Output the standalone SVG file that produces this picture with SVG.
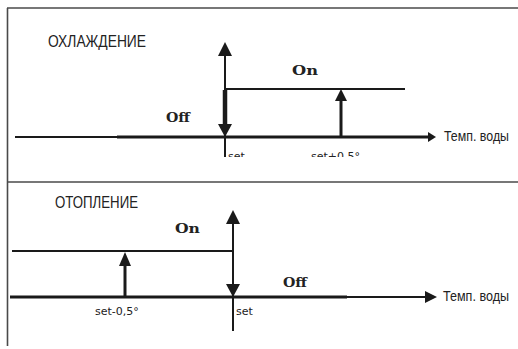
<svg xmlns="http://www.w3.org/2000/svg" width="518" height="349" viewBox="0 0 518 349">
<style>
.frame{stroke:#4a4a4a;stroke-width:1.6;fill:none}
.ln{stroke:#1a1a1a;fill:none;stroke-width:2}
.thk{stroke:#1a1a1a;fill:none;stroke-width:3}
.ah{fill:#1a1a1a}
.title{font-family:"Liberation Sans",Arial,sans-serif;font-size:16px;fill:#222}
.axl{font-family:"Liberation Sans",Arial,sans-serif;font-size:14px;fill:#222}
.state{font-family:"DejaVu Serif","Liberation Serif",serif;font-weight:bold;font-size:13px;fill:#222}
.small{font-family:"DejaVu Sans","Liberation Sans",sans-serif;font-size:11px;fill:#222}
</style>
<defs>
<clipPath id="cut"><rect x="0" y="0" width="518" height="157"/></clipPath>
</defs>
<g id="frame">
<line class="frame" x1="7" y1="8" x2="518" y2="8"/>
<line class="frame" x1="7.5" y1="8" x2="7.5" y2="346"/>
<line class="frame" x1="7" y1="182" x2="518" y2="182"/>
</g>
<g id="cooling">
<text class="title" x="48" y="47" textLength="98" lengthAdjust="spacingAndGlyphs">ОХЛАЖДЕНИЕ</text>
<g id="cool-axis">
<line class="ln" x1="15" y1="137" x2="117" y2="137"/>
<line class="thk" x1="117" y1="137" x2="430" y2="137"/>
<path class="ah" d="M428,132 L436,137 L428,142 Z"/>
<text class="axl" x="444" y="141" textLength="65" lengthAdjust="spacingAndGlyphs">Темп. воды</text>
</g>
<g id="cool-on">
<line class="ln" x1="224" y1="89" x2="405" y2="89"/>
<text class="state" x="292" y="75" textLength="26" lengthAdjust="spacingAndGlyphs">On</text>
</g>
<g id="cool-off">
<text class="state" x="166" y="122" textLength="24" lengthAdjust="spacingAndGlyphs">Off</text>
</g>
<g id="cool-set">
<line class="ln" x1="225" y1="55" x2="225" y2="157"/>
<path class="ah" d="M218,56 L225,42 L232,56 Z"/>
<line class="ln" x1="225" y1="90" x2="225" y2="126" style="stroke-width:4.5"/>
<path class="ah" d="M218,124 L225,137 L232,124 Z"/>
<text class="small" x="228" y="160" clip-path="url(#cut)">set</text>
</g>
<g id="cool-set-plus">
<line class="thk" x1="341" y1="137" x2="341" y2="100"/>
<path class="ah" d="M335,101 L341,89 L347,101 Z"/>
<text class="small" x="311" y="160" clip-path="url(#cut)">set+0,5°</text>
</g>
</g>
<g id="heating">
<text class="title" x="55" y="208" textLength="83" lengthAdjust="spacingAndGlyphs">ОТОПЛЕНИЕ</text>
<g id="heat-axis">
<line class="thk" x1="10" y1="297" x2="347" y2="297"/>
<line class="ln" x1="347" y1="297" x2="427" y2="297"/>
<path class="ah" d="M425,291 L437,297 L425,303 Z"/>
<text class="axl" x="443" y="301" textLength="66" lengthAdjust="spacingAndGlyphs">Темп. воды</text>
</g>
<g id="heat-on">
<line class="ln" x1="12" y1="251" x2="233" y2="251"/>
<text class="state" x="175" y="233" textLength="25" lengthAdjust="spacingAndGlyphs">On</text>
</g>
<g id="heat-off">
<text class="state" x="283" y="287" textLength="24" lengthAdjust="spacingAndGlyphs">Off</text>
</g>
<g id="heat-set">
<line class="ln" x1="233" y1="222" x2="233" y2="331"/>
<path class="ah" d="M226,224 L233,210 L240,224 Z"/>
<path class="ah" d="M226,284 L233,297 L240,284 Z"/>
<text class="small" x="236" y="315">set</text>
</g>
<g id="heat-set-minus">
<line class="thk" x1="125" y1="297" x2="125" y2="264"/>
<path class="ah" d="M119,266 L125,252 L131,266 Z"/>
<text class="small" x="95" y="315">set-0,5°</text>
</g>
</g>
</svg>
